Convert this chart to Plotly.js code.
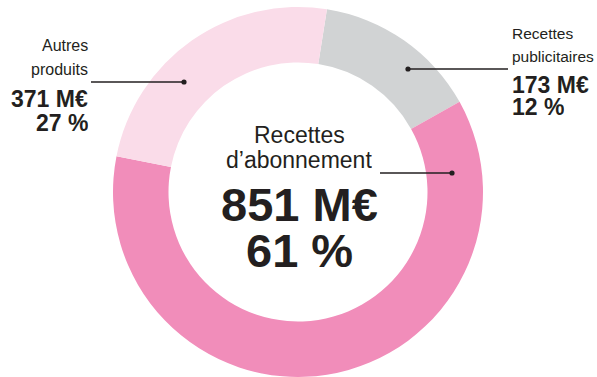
<!DOCTYPE html>
<html>
<head>
<meta charset="utf-8">
<script src="https://cdn.plot.ly/plotly-3.0.1.min.js"></script>
<style>html,body{margin:0;padding:0;background:#fff;}#chart{width:597px;height:377px;}</style>
</head>
<body>
<div id="chart"></div>
<script>
// ---- data ----
const categories = ['Recettes publicitaires', 'Recettes d’abonnement', 'Autres produits'];
const amounts = [173, 851, 371];          // M€
const percents = [12, 61, 27];            // printed shares (%)
const sliceShares = [14.4, 61.2, 24.4];   // ring arc shares as drawn (%)
const colors = ['#d1d3d4', '#f18dba', '#fadce9'];

const W = 597, H = 377;
const X = p => p / W;
const Y = p => 1 - p / H;

const reg = '"Liberation Sans", Arial, sans-serif';
const boldF = '"Liberation Sans", Arial, sans-serif';
const ink = '#231f20';

const trace = {
  type: 'pie',
  labels: categories,
  values: sliceShares,
  sort: false,
  direction: 'clockwise',
  rotation: 9,
  hole: 0.70,
  marker: {colors: colors, line: {width: 0}},
  textinfo: 'none',
  hoverinfo: 'none',
  showlegend: false,
  domain: {x: [X(113), X(483)], y: [Y(377), Y(7)]}
};

function line(text, x, yMid, size, bold, anchor, boxH) {
  const a = {
    xref: 'paper', yref: 'paper', x: X(x), y: Y(yMid),
    xanchor: anchor, yanchor: 'middle', showarrow: false,
    borderpad: 0,
    text: bold ? '<b>' + text + '</b>' : text,
    font: {family: bold ? boldF : reg, size: size, color: ink}
  };
  if (boxH) { a.height = boxH; a.valign = 'middle'; }
  return a;
}

const fmtAmt = v => v + ' M€';
const fmtPct = v => v + ' %';

const annotations = [
  // Autres produits (left)
  line('Autres', 89, 46, 16, false, 'right'),
  line('produits', 89, 69, 16, false, 'right'),
  line(fmtAmt(amounts[2]), 89, 98, 23, true, 'right', 21),
  line(fmtPct(percents[2]), 89, 122, 23, true, 'right', 21),
  // Recettes publicitaires (right)
  line('Recettes', 511, 34, 15.5, false, 'left'),
  line('publicitaires', 511, 56, 15.5, false, 'left'),
  line(fmtAmt(amounts[0]), 511, 84, 23, true, 'left', 21),
  line(fmtPct(percents[0]), 511, 106, 23, true, 'left', 21),
  // Recettes d'abonnement (center)
  line('Recettes', 299, 135, 23, false, 'center', 23),
  line('d’abonnement', 299, 159, 23, false, 'center', 23),
  line(fmtAmt(amounts[1]), 299, 204, 47, true, 'center', 42),
  line(fmtPct(percents[1]), 299, 250, 47, true, 'center', 42)
];

function leader(x0, x1, y, dotX) {
  return [
    {type: 'line', xref: 'paper', yref: 'paper', x0: X(x0), x1: X(x1), y0: Y(y), y1: Y(y),
     line: {color: ink, width: 1.3}},
    {type: 'circle', xref: 'paper', yref: 'paper', x0: X(dotX - 2.6), x1: X(dotX + 2.6),
     y0: Y(y - 2.6), y1: Y(y + 2.6), fillcolor: ink, line: {width: 0}}
  ];
}

const shapes = [].concat(
  leader(91, 184, 82, 184),
  leader(408, 508, 69, 408),
  leader(380, 452, 173, 452)
);

const layout = {
  width: W, height: H,
  margin: {l: 0, r: 0, t: 0, b: 0, pad: 0},
  paper_bgcolor: '#ffffff', plot_bgcolor: '#ffffff',
  showlegend: false,
  annotations: annotations,
  shapes: shapes
};

Plotly.newPlot('chart', [trace], layout, {displayModeBar: false, staticPlot: true});
</script>
</body>
</html>
